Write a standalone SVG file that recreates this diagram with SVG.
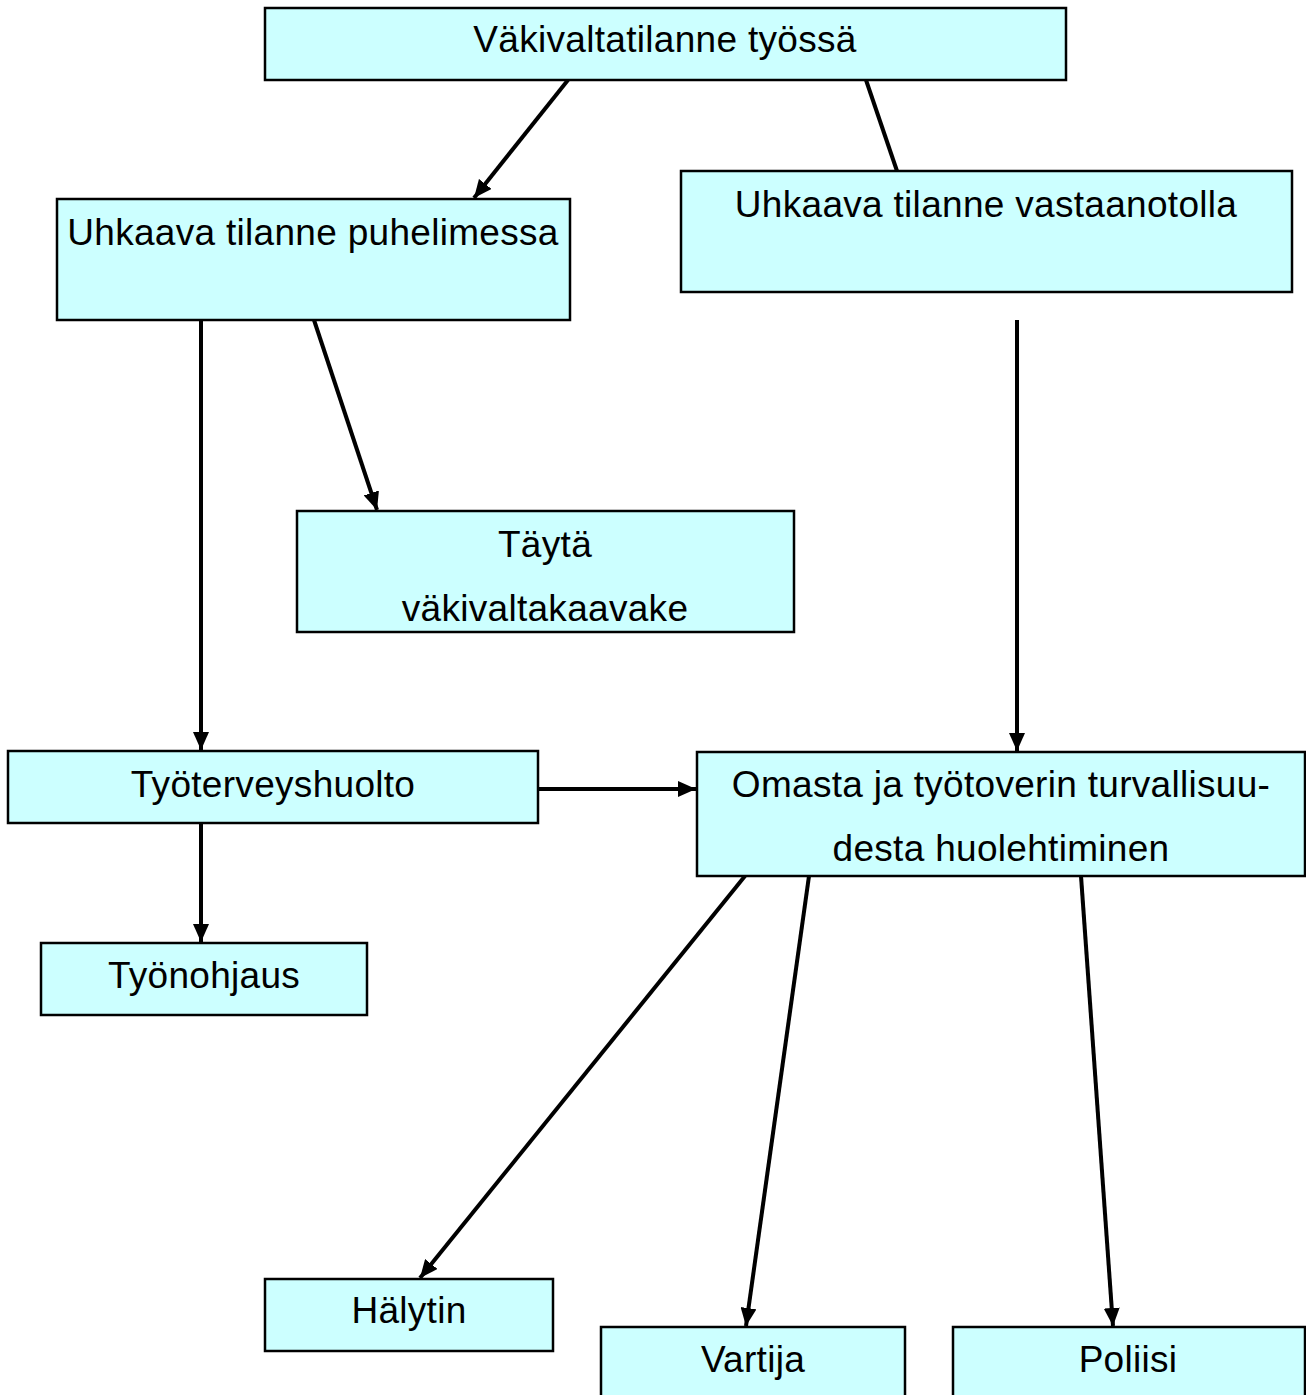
<svg xmlns="http://www.w3.org/2000/svg" width="1306" height="1395" viewBox="0 0 1306 1395">
  <defs>
    <marker id="arrow" viewBox="0 0 18 16" refX="18" refY="8" markerWidth="18" markerHeight="16" markerUnits="userSpaceOnUse" orient="auto">
      <path d="M0,0 L18,8 L0,16 Z" fill="#000"/>
    </marker>
    <style>
      .box { fill: #ccffff; stroke: #000; stroke-width: 2.5; }
      .label { font-family: "Liberation Sans", Arial, sans-serif; font-size: 37px; fill: #000; text-anchor: middle; letter-spacing: 0.3px; }
      .edge { stroke: #000; stroke-width: 4; fill: none; }
      .arr { marker-end: url(#arrow); }
    </style>
  </defs>
  <rect width="1306" height="1395" fill="#fff"/>

  <!-- connectors -->
  <g id="connectors">
    <line class="edge arr" x1="568" y1="80" x2="474" y2="198"/>
    <line class="edge" x1="866" y1="80" x2="897" y2="171"/>
    <line class="edge arr" x1="201" y1="320" x2="201" y2="750"/>
    <line class="edge arr" x1="314" y1="320" x2="377" y2="510"/>
    <line class="edge arr" x1="1017" y1="320" x2="1017" y2="751"/>
    <line class="edge arr" x1="538" y1="789" x2="696" y2="789"/>
    <line class="edge arr" x1="201" y1="823" x2="201" y2="942"/>
    <line class="edge arr" x1="745" y1="876" x2="420" y2="1278"/>
    <line class="edge arr" x1="809" y1="876" x2="746" y2="1326"/>
    <line class="edge arr" x1="1081" y1="876" x2="1113" y2="1326"/>
  </g>

  <!-- nodes -->
  <g id="n-tilanne">
    <rect class="box" x="265" y="8" width="801" height="72"/>
    <text class="label" x="665" y="52">Väkivaltatilanne työssä</text>
  </g>
  <g id="n-puhelin">
    <rect class="box" x="57" y="199" width="513" height="121"/>
    <text class="label" x="313" y="245">Uhkaava tilanne puhelimessa</text>
  </g>
  <g id="n-vastaanotto">
    <rect class="box" x="681" y="171" width="611" height="121"/>
    <text class="label" x="986" y="217">Uhkaava tilanne vastaanotolla</text>
  </g>
  <g id="n-kaavake">
    <rect class="box" x="297" y="511" width="497" height="121"/>
    <text class="label" x="545" y="557">Täytä</text>
    <text class="label" x="545" y="621">väkivaltakaavake</text>
  </g>
  <g id="n-tyoterveys">
    <rect class="box" x="8" y="751" width="530" height="72"/>
    <text class="label" x="273" y="797">Työterveyshuolto</text>
  </g>
  <g id="n-turvallisuus">
    <rect class="box" x="697" y="752" width="608" height="124"/>
    <text class="label" x="1001" y="797">Omasta ja työtoverin turvallisuu-</text>
    <text class="label" x="1001" y="861">desta huolehtiminen</text>
  </g>
  <g id="n-tyonohjaus">
    <rect class="box" x="41" y="943" width="326" height="72"/>
    <text class="label" x="204" y="988">Työnohjaus</text>
  </g>
  <g id="n-halytin">
    <rect class="box" x="265" y="1279" width="288" height="72"/>
    <text class="label" x="409" y="1323">Hälytin</text>
  </g>
  <g id="n-vartija">
    <rect class="box" x="601" y="1327" width="304" height="80"/>
    <text class="label" x="753" y="1372">Vartija</text>
  </g>
  <g id="n-poliisi">
    <rect class="box" x="953" y="1327" width="352" height="80"/>
    <text class="label" x="1128" y="1372">Poliisi</text>
  </g>
</svg>
